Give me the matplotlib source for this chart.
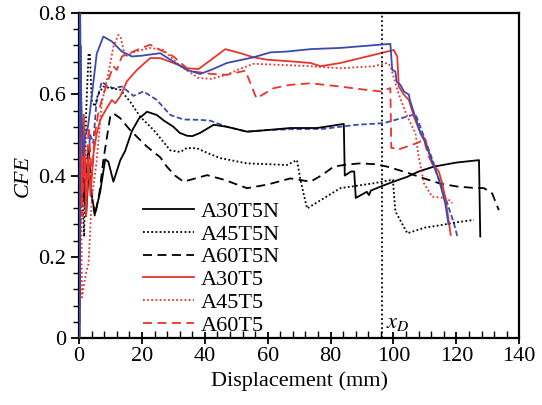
import matplotlib
matplotlib.use("Agg")
import matplotlib.pyplot as plt
from matplotlib.ticker import MultipleLocator, FuncFormatter

plt.rcParams['font.family'] = ['Liberation Serif', 'DejaVu Serif']
plt.rcParams['mathtext.fontset'] = 'stix'

RED = '#e8352c'
BLUE = '#3a4aad'

# A30T5N
a30n_x = [0, 0.4, 1.0, 1.6, 2.2, 2.8, 3.4, 4.2, 5.1, 6.7, 8.3, 9.3, 10.9, 13.1, 14.6, 16.8, 19, 21.6,
          24.7, 27, 30.0, 32, 34.3, 36, 38.5, 42.8, 47, 53.4, 60, 67.2, 75.7, 84.2, 84.5, 86.5, 87.5,
          88.0, 91.5, 92.2, 92.8, 95.9, 100, 104.4, 108, 112.8, 120, 127.2, 127.6]
a30n_y = [0, 0.58, 0.45, 0.36, 0.30, 0.38, 0.40, 0.34, 0.307, 0.36, 0.44, 0.434, 0.385, 0.438, 0.46,
          0.51, 0.54, 0.557, 0.549, 0.535, 0.52, 0.505, 0.498, 0.497, 0.505, 0.525, 0.52, 0.508, 0.512,
          0.517, 0.517, 0.527, 0.40, 0.41, 0.41, 0.345, 0.36, 0.352, 0.363, 0.373, 0.385, 0.397, 0.41,
          0.422, 0.432, 0.438, 0.25]

# A45T5N
a45n_x = [0, 0.5, 1.0, 1.6, 2.2, 3.0, 3.4, 4.0, 5, 6, 7.7, 10, 13.1, 16.2, 19.4, 23.7, 29, 32.2, 34.3,
          37.5, 41, 44.9, 53.4, 60, 66.1, 69.3, 70.4, 72.5, 78, 83.1, 93.7, 99.8, 100.6, 104.4, 110,
          115, 120, 125.6]
a45n_y = [0, 0.72, 0.35, 0.25, 0.55, 0.70, 0.70, 0.586, 0.57, 0.60, 0.619, 0.615, 0.611, 0.582, 0.545,
          0.512, 0.462, 0.458, 0.468, 0.467, 0.455, 0.443, 0.43, 0.428, 0.426, 0.438, 0.389, 0.319,
          0.345, 0.369, 0.381, 0.39, 0.312, 0.258, 0.272, 0.278, 0.285, 0.291]

# A60T5N
a60n_x = [0, 0.5, 1.2, 2, 3, 4, 5, 6.5, 7.7, 9.9, 10.9, 13.1, 16.2, 21.6, 25.8, 27.9, 30.5, 33.2, 36.5,
          40.7, 46, 53.4, 60, 67.2, 70.4, 73.6, 77, 81, 85, 89.5, 94, 98, 104, 109.7, 115, 120.3, 125,
          128.8, 131.4, 133.5]
a60n_y = [0, 0.50, 0.33, 0.40, 0.47, 0.35, 0.30, 0.36, 0.438, 0.546, 0.553, 0.541, 0.512, 0.471, 0.445,
          0.422, 0.40, 0.385, 0.392, 0.401, 0.39, 0.369, 0.378, 0.393, 0.389, 0.385, 0.40, 0.422, 0.427,
          0.430, 0.428, 0.422, 0.408, 0.393, 0.38, 0.373, 0.37, 0.369, 0.356, 0.315]

# A30T5
a30_x = [0, 0.4, 1.0, 1.5, 2.2, 3.0, 3.6, 4.6, 5.5, 6.7, 8.8, 10.4, 11.5, 13.1, 15.2, 18.4, 22.6, 25.8,
         30.0, 34.3, 38.0, 42, 46.5, 51.3, 55.5, 59.8, 67.2, 73.6, 76.8, 83.1, 89.5, 95.9, 100.1, 101.2,
         101.7, 103.3, 104.9, 106.5, 108.6, 110.2, 110.7, 112.3, 114.4, 115.5, 116.6, 118.2]
a30_y = [0, 0.62, 0.35, 0.55, 0.30, 0.45, 0.35, 0.455, 0.50, 0.537, 0.566, 0.586, 0.578, 0.595, 0.632,
         0.66, 0.689, 0.689, 0.677, 0.664, 0.662, 0.685, 0.711, 0.701, 0.691, 0.685, 0.681, 0.677, 0.669,
         0.677, 0.689, 0.701, 0.709, 0.693, 0.619, 0.599, 0.586, 0.545, 0.504, 0.488, 0.471, 0.430,
         0.410, 0.381, 0.340, 0.254]

# A45T5
a45_x = [0, 0.3, 0.6, 0.9, 1.5, 2.2, 3.0, 4.0, 5.6, 7.2, 9.3, 10.9, 12.5, 13.2, 14.6, 17.8, 22.6, 26.8,
         32.2, 38.0, 42, 47.0, 51, 55.5, 65, 73.6, 83.1, 93.7, 98, 99, 101.7, 104.4, 107, 108, 109.7,
         112.3, 117.1, 118.7]
a45_y = [0, 0.72, 0.40, 0.10, 0.13, 0.16, 0.184, 0.34, 0.438, 0.578, 0.652, 0.717, 0.746, 0.74, 0.693,
         0.705, 0.714, 0.709, 0.669, 0.640, 0.638, 0.648, 0.662, 0.675, 0.672, 0.669, 0.664, 0.669,
         0.677, 0.67, 0.599, 0.545, 0.504, 0.447, 0.381, 0.348, 0.344, 0.332]

# A60T5
a60_x = [0, 0.5, 1.0, 1.6, 2.2, 3.0, 4.0, 5.0, 6.0, 7.2, 9, 10.9, 12, 13.6, 18.4, 22.6, 25.8, 30.0,
         34.3, 36.4, 42, 47, 52.9, 56.4, 61.9, 67, 73.6, 83.1, 90, 95.9, 99, 99.3, 100.6, 101.2, 107.5,
         109.7, 111, 113]
a60_y = [0, 0.60, 0.30, 0.48, 0.35, 0.52, 0.40, 0.50, 0.55, 0.586, 0.63, 0.669, 0.66, 0.693, 0.709,
         0.722, 0.709, 0.693, 0.664, 0.656, 0.65, 0.648, 0.658, 0.590, 0.615, 0.623, 0.627, 0.619,
         0.612, 0.607, 0.615, 0.468, 0.467, 0.463, 0.480, 0.488, 0.45, 0.42]

# blue solid (no legend entry)
bs_x = [0.2, 0.25, 0.6, 1.2, 2, 2.8, 3.5, 5.6, 7.7, 10.4, 13.6, 16.8, 20, 25.8, 30.0, 34.3, 38.5, 42,
        47.0, 55.5, 60.8, 66, 73.6, 83.1, 99.0, 99.6, 100.6, 101, 102.2, 103.3, 104.9, 105.2, 108.6,
        110.2, 112.5, 114.5, 116.5, 117.5]
bs_y = [0, 0.85, 0.60, 0.45, 0.50, 0.52, 0.561, 0.70, 0.742, 0.730, 0.705, 0.693, 0.695, 0.701, 0.680,
        0.660, 0.650, 0.660, 0.677, 0.691, 0.703, 0.705, 0.711, 0.714, 0.724, 0.660, 0.656, 0.631,
        0.623, 0.607, 0.599, 0.586, 0.504, 0.480, 0.43, 0.39, 0.33, 0.28]

# blue dashed (no legend entry)
bd_x = [0, 0.1, 0.8, 1.5, 2.5, 3.5, 4.5, 5.5, 7.2, 9, 10.9, 13.6, 17.3, 20.5, 24.7, 29.0, 33.2, 38.5,
        41.7, 47, 53.4, 59.8, 67.2, 77.8, 88.4, 96.9, 102, 107, 109.7, 112.8, 113.9, 116.6, 119.2, 120.3]
bd_y = [0, 0.20, 0.35, 0.45, 0.40, 0.50, 0.48, 0.58, 0.631, 0.62, 0.615, 0.619, 0.596, 0.607, 0.586,
        0.549, 0.538, 0.537, 0.535, 0.52, 0.508, 0.512, 0.514, 0.515, 0.525, 0.529, 0.54, 0.551, 0.496,
        0.430, 0.401, 0.344, 0.283, 0.251]

x_d = 96.2

fig = plt.figure(figsize=(5.42, 4.05), dpi=100)
ax = fig.add_axes([0.146, 0.165, 0.812, 0.803])

lw = 1.3
dot = (0, (1, 1.3))
dash = (0, (5, 3))
ax.plot(bd_x, bd_y, color=BLUE, lw=lw, ls=(0, (3, 1.5)))
ax.plot(a60n_x, a60n_y, color='black', lw=lw, ls=dash)
ax.plot(a45n_x, a45n_y, color='black', lw=lw, ls=dot)
ax.plot(a30n_x, a30n_y, color='black', lw=lw, ls='-')
ax.plot(bs_x, bs_y, color=BLUE, lw=lw, ls='-', zorder=2.7)
ax.plot(a60_x, a60_y, color=RED, lw=lw, ls=dash)
ax.plot(a45_x, a45_y, color=RED, lw=lw, ls=dot)
ax.plot(a30_x, a30_y, color=RED, lw=lw, ls='-')

ax.axvline(x_d, color='black', lw=1.3, ls=(0, (1, 1.5)))
ax.text(x_d + 1.3, 0.012, '$x_D$', fontsize=16, ha='left', va='bottom')

# legend handles (black and red only)
handles = []
for c, s, lab in [('black', '-', 'A30T5N'), ('black', dot, 'A45T5N'), ('black', dash, 'A60T5N'),
                  (RED, '-', 'A30T5'), (RED, dot, 'A45T5'), (RED, dash, 'A60T5')]:
    h, = ax.plot([], [], color=c, ls=s, lw=lw, label=lab)
    handles.append(h)
ax.legend(handles=handles, loc='lower left', bbox_to_anchor=(0.11, -0.04), frameon=False,
          fontsize=16, handlelength=2.3, handletextpad=0.3, labelspacing=0.1, borderpad=0.2)

ax.set_xlim(0, 140)
ax.set_ylim(0, 0.8)
ax.xaxis.set_major_locator(MultipleLocator(20))
ax.xaxis.set_minor_locator(MultipleLocator(4))
ax.yaxis.set_major_locator(MultipleLocator(0.2))
ax.yaxis.set_minor_locator(MultipleLocator(0.04))
ax.yaxis.set_major_formatter(FuncFormatter(lambda v, p: '0' if abs(v) < 1e-9 else f'{v:.1f}'))
ax.tick_params(axis='x', which='major', direction='inout', length=9, width=1.3, labelsize=16, pad=2)
ax.tick_params(axis='x', which='minor', direction='in', length=5, width=1.0)
ax.tick_params(axis='y', which='major', direction='out', length=6, width=1.3, labelsize=16)
ax.tick_params(axis='y', which='minor', direction='out', length=4, width=1.0)
for sp in ax.spines.values():
    sp.set_linewidth(1.6)

ax.set_xlabel('Displacement (mm)', fontsize=16, labelpad=4)
ax.set_ylabel('CFE', fontsize=16, style='italic', labelpad=4)

fig.savefig('out.png', dpi=100)
